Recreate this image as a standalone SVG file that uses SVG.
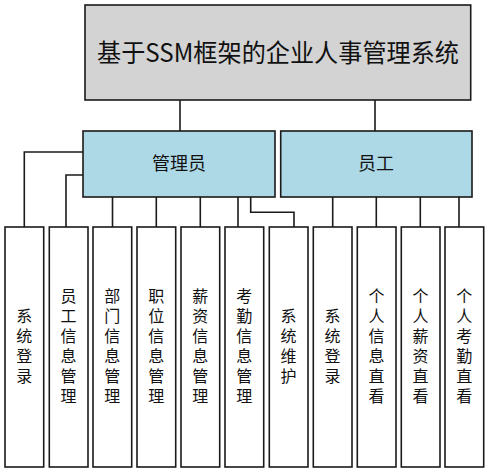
<svg xmlns="http://www.w3.org/2000/svg" width="489" height="473" viewBox="0 0 489 473">
<style>
.box{stroke:#1a1a1a;stroke-width:1.6}
.root{fill:#d3d3d3}
.mid{fill:#add8e6}
.leaf{fill:#ffffff}
.t{font-family:"Noto Sans CJK SC","Noto Sans",sans-serif;fill:#111;text-anchor:middle}
.lt{font-size:16px;writing-mode:vertical-rl;letter-spacing:4px}
.conn{fill:none;stroke:#1a1a1a;stroke-width:1.6}
</style>
<rect width="489" height="473" fill="#fff"/>
<g id="connectors" class="conn">
<path d="M180,100V131"/>
<path d="M375,100V131"/>
<path d="M83,152H24.3V227"/>
<path d="M83,175H66V227"/>
<path d="M112.5,197V227"/>
<path d="M156.3,197V227"/>
<path d="M200.3,197V227"/>
<path d="M238,197V227"/>
<path d="M250.7,197V212.3H294V227"/>
<path d="M332.7,197V227"/>
<path d="M376.3,197V227"/>
<path d="M420.3,197V227"/>
<path d="M459,197V227"/>
</g>
<g id="root">
<rect class="box root" x="85" y="5" width="385.7" height="95"/>
<text class="t" x="278" y="62" font-size="25" textLength="362" lengthAdjust="spacingAndGlyphs">基于SSM框架的企业人事管理系统</text>
</g>
<g id="admin">
<rect class="box mid" x="83" y="131" width="192" height="66"/>
<text class="t" x="179" y="170" font-size="18">管理员</text>
</g>
<g id="employee">
<rect class="box mid" x="280.7" y="131" width="191.3" height="66"/>
<text class="t" x="376" y="170" font-size="18">员工</text>
</g>
<g id="leaf1"><rect class="box leaf" x="5" y="227" width="38.7" height="240"/>
<text class="t lt" x="24.3" y="348">系统登录</text></g>
<g id="leaf2"><rect class="box leaf" x="49.3" y="227" width="38.7" height="240"/>
<text class="t lt" x="68.6" y="348">员工信息管理</text></g>
<g id="leaf3"><rect class="box leaf" x="93" y="227" width="38.7" height="240"/>
<text class="t lt" x="112.3" y="348">部门信息管理</text></g>
<g id="leaf4"><rect class="box leaf" x="137" y="227" width="38.7" height="240"/>
<text class="t lt" x="156.3" y="348">职位信息管理</text></g>
<g id="leaf5"><rect class="box leaf" x="181" y="227" width="38.7" height="240"/>
<text class="t lt" x="200.3" y="348">薪资信息管理</text></g>
<g id="leaf6"><rect class="box leaf" x="225" y="227" width="38.7" height="240"/>
<text class="t lt" x="244.3" y="348">考勤信息管理</text></g>
<g id="leaf7"><rect class="box leaf" x="269.3" y="227" width="38.7" height="240"/>
<text class="t lt" x="288.6" y="348">系统维护</text></g>
<g id="leaf8"><rect class="box leaf" x="313.3" y="227" width="38.7" height="240"/>
<text class="t lt" x="332.6" y="348">系统登录</text></g>
<g id="leaf9"><rect class="box leaf" x="357.3" y="227" width="38.7" height="240"/>
<text class="t lt" x="376.6" y="348">个人信息直看</text></g>
<g id="leaf10"><rect class="box leaf" x="401.3" y="227" width="38.7" height="240"/>
<text class="t lt" x="420.6" y="348">个人薪资直看</text></g>
<g id="leaf11"><rect class="box leaf" x="445" y="227" width="38.7" height="240"/>
<text class="t lt" x="464.3" y="348">个人考勤直看</text></g>
</svg>
